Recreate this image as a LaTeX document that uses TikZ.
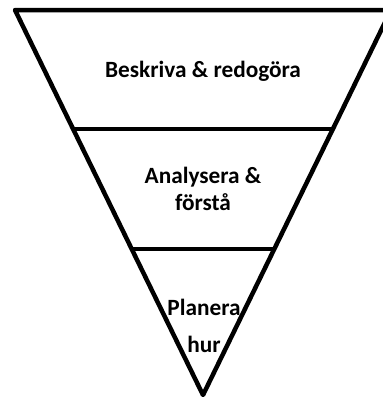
\documentclass[tikz,border=0pt]{standalone}
\usepackage{fontspec}
\setmainfont{Carlito}
\begin{document}
\begin{tikzpicture}[x=1pt,y=-1pt,
  edge/.style={line width=4.5pt,line join=round},
  lbl/.style={font=\fontsize{23.3}{28}\bfseries\selectfont,anchor=base,inner sep=0pt}]
\useasboundingbox (0,0) rectangle (383,397);
\clip (0,0) rectangle (383,397);
\coordinate (tl) at (15,10);
\coordinate (tr) at (391,10);
\coordinate (ap) at (203,395);
\draw[edge] (tl) -- (tr) -- (ap) -- cycle;
\draw[edge] (73.1,129) -- (332.9,129);
\draw[edge] (131.7,249) -- (274.3,249);
\node[lbl] (t1) at (203,77) {Beskriva \& redogöra};
\node[lbl] (t2) at (203,183) {Analysera \&};
\node[lbl] (t3) at (203,210) {förstå};
\node[lbl] (t4) at (204,315) {Planera};
\node[lbl] (t5) at (204,352) {hur};
\end{tikzpicture}
\end{document}
